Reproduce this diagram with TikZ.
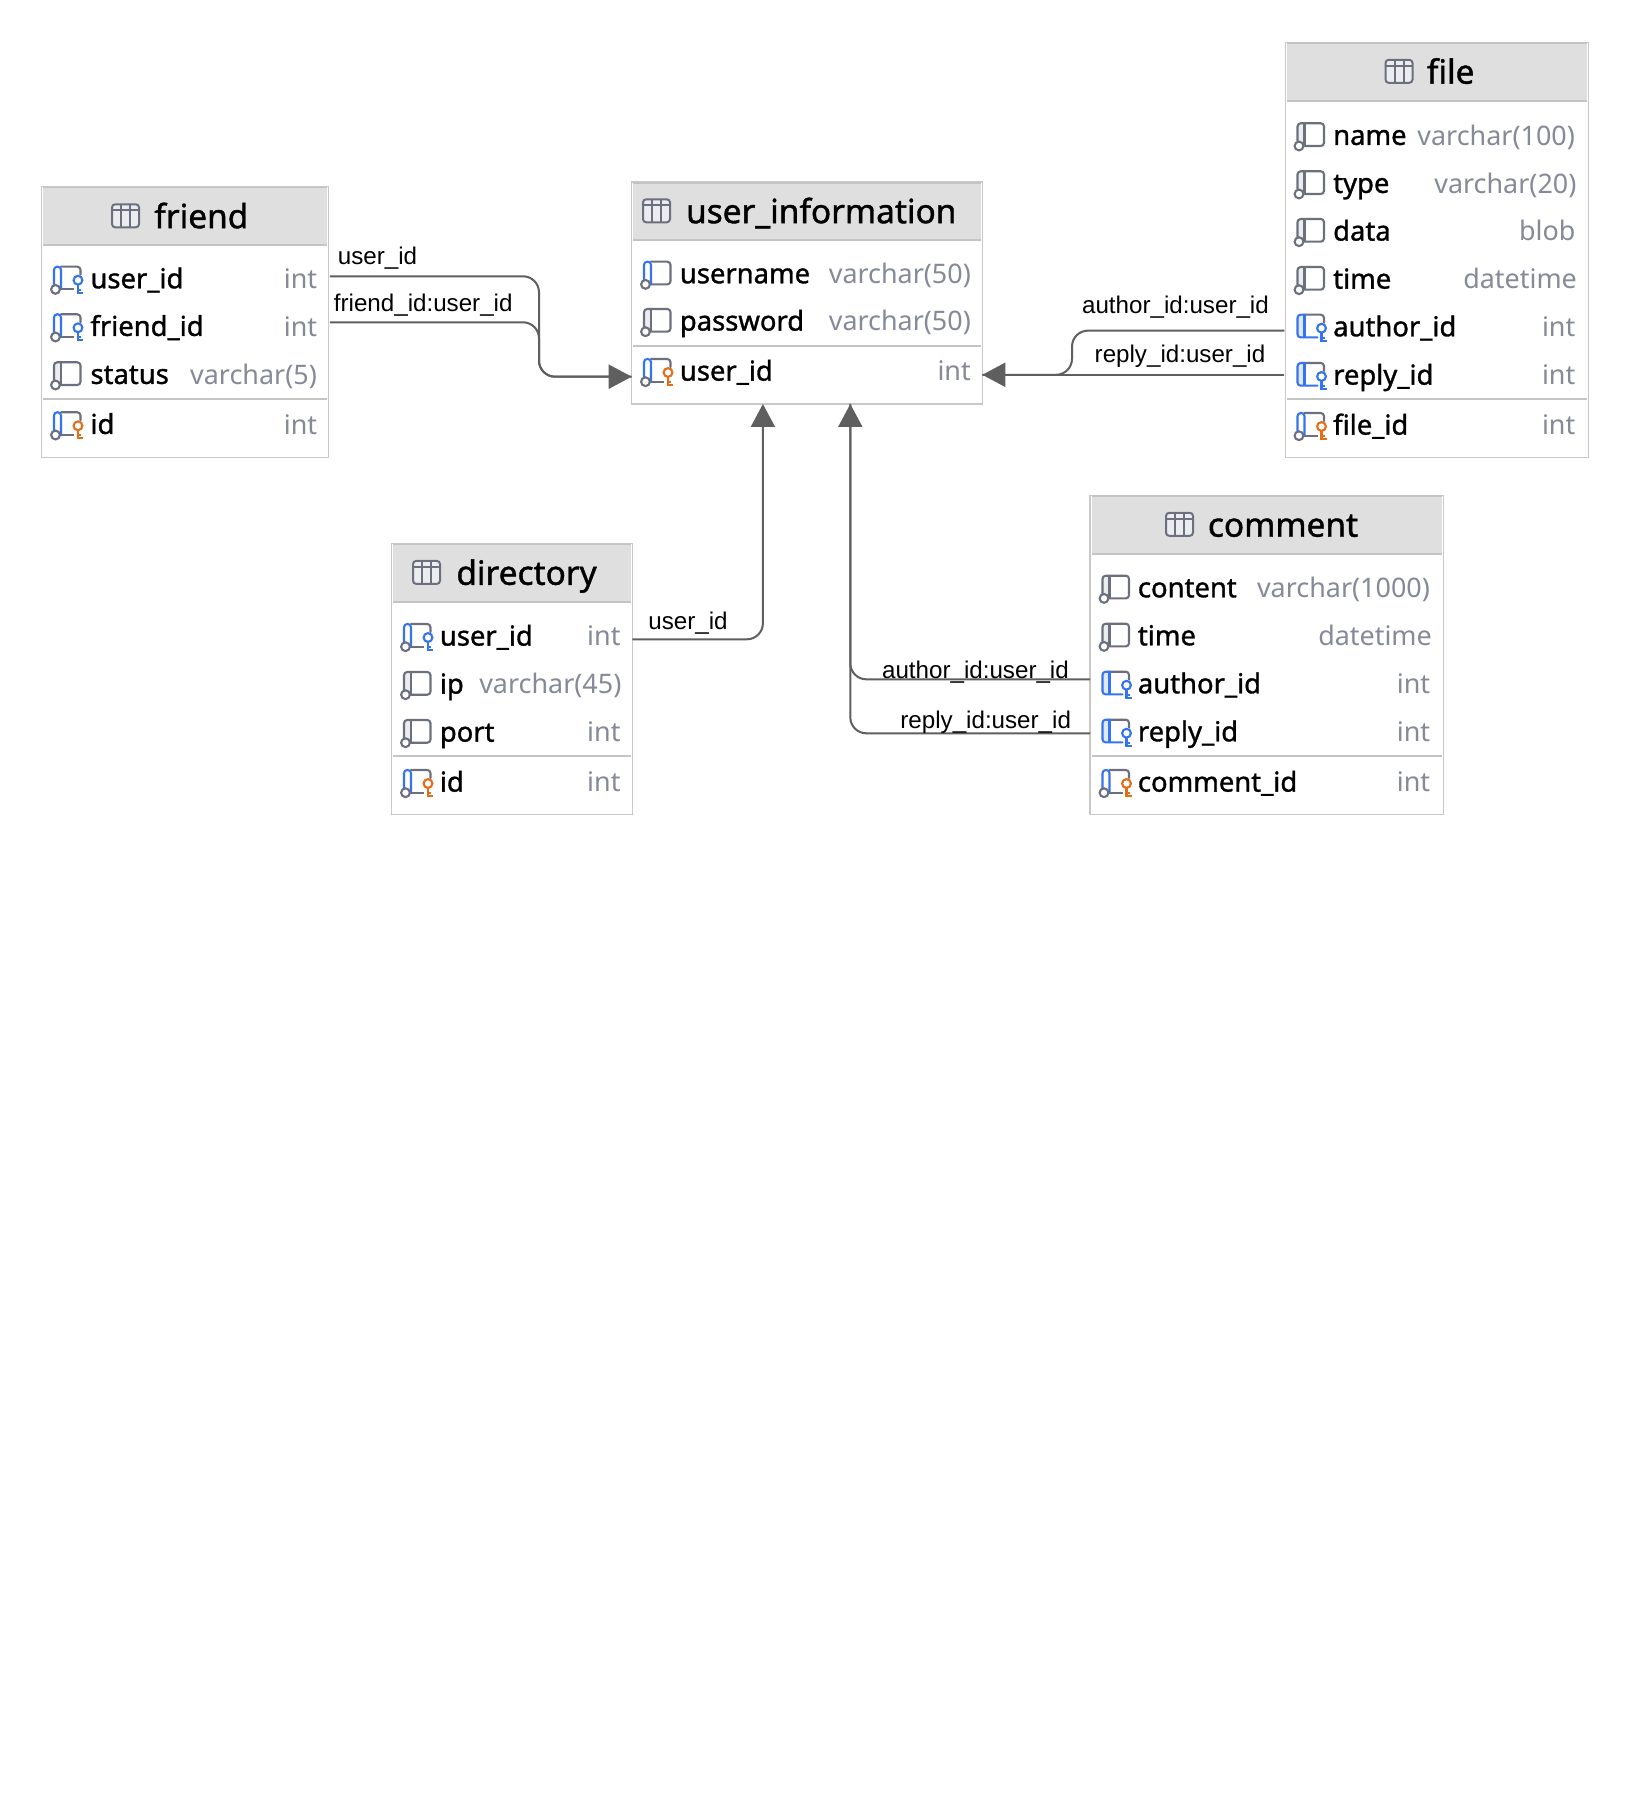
\documentclass[tikz,border=0pt]{standalone}
\usepackage{fontspec}
\usetikzlibrary{arrows.meta,fit}
\setmainfont{Liberation Sans}
\newfontfamily\colfont{Noto Sans}[FakeBold=1.2]
\newfontfamily\typefont{Noto Sans}
\definecolor{icongray}{HTML}{6C707E}
\definecolor{iconfill}{HTML}{EBECF0}
\definecolor{fkblue}{HTML}{3574F0}
\definecolor{bluefill}{HTML}{E0E9FB}
\definecolor{pkorange}{HTML}{E66D17}
\definecolor{typegray}{HTML}{868A98}
\definecolor{borderc}{HTML}{C9C9C9}
\definecolor{sepc}{HTML}{C4C4C4}
\definecolor{headc}{HTML}{DFDFDF}
\definecolor{connc}{HTML}{5F5F5F}
\tikzset{
  tablebox/.style={draw=borderc,line width=0.7pt,fill=white,inner sep=0pt,outer sep=0pt},
  sepline/.style={draw=sepc,line width=0.9pt},
  titletext/.style={anchor=base west,inner sep=0pt,font=\colfont\fontsize{16.7}{18}\selectfont,text=black},
  nametext/.style={anchor=base west,inner sep=0pt,font=\colfont\fontsize{13.7}{16}\selectfont,text=black},
  typetext/.style={anchor=base east,inner sep=0pt,font=\typefont\fontsize{13.45}{16}\selectfont,text=typegray},
  edgetext/.style={anchor=base west,inner sep=0pt,font=\fontsize{12.08}{14}\selectfont,text=black},
  conn/.style={draw=connc,line width=1pt,rounded corners=8pt},
  connarrow/.style={conn,-{Triangle[length=11.5pt,width=12pt,fill=connc]}},
  iconline/.style={line width=1.05pt,line cap=round,rounded corners=1.6pt},
}
% table frame: id, left, top, right, header bottom, divider, bottom, title, title position
\newcommand\dbtable[9]{%
  \coordinate (#1-nw) at (#2,#3);
  \coordinate (#1-se) at (#4,#7);
  \node[tablebox,fit=(#1-nw)(#1-se)] (#1) {};
  \fill[headc] (#2+1.5,#3+1.5) rectangle (#4-1.5,#5);
  \draw[sepline] (#2+1.5,#3+0.8) -- (#4-1.5,#3+0.8);
  \draw[sepline] (#2+1.5,#5) -- (#4-1.5,#5);
  \draw[sepline] (#2+1.5,#6) -- (#4-1.5,#6);
  \dbtabletitle{#1}{#8}{#9}%
}
\newcommand\dbtabletitle[3]{\node[titletext] (#1-title) at (#3) {#2};}
\newcommand\tableicon[2]{%
  \begin{scope}[shift={(#1,#2)}]
    \draw[icongray,fill=iconfill,line width=1pt,rounded corners=1.6pt] (0,-23.4) rectangle (27,-0.4);
    \draw[icongray,line width=1pt] (0,-17.5) -- (27,-17.5) (9,-23.4) -- (9,-0.4) (18,-23.4) -- (18,-0.4);
  \end{scope}}
\newcommand\keyglyph[1]{%
  \draw[#1,line width=1.05pt] (25,-3.2) -- (25,5) -- (30,5) (25,2) -- (28,2);
  \draw[#1,line width=1.05pt] (25,-7.5) circle[radius=2.2pt];}
\newcommand\ringglyph{\draw[icongray,fill=white,line width=1.05pt] (2.5,1.7) circle[radius=2.2pt];}
% plain column
\newcommand\iconA[2]{%
  \begin{scope}[shift={(#1,#2)}]
    \fill[iconfill] (1,-21) rectangle (8,1.7);
    \draw[icongray,iconline] (1,-3) -- (1,-21) -- (27.5,-21) -- (27.5,1.7) -- (6,1.7);
    \draw[icongray,line width=1.05pt] (8,-21) -- (8,1.7);
    \ringglyph
  \end{scope}}
% blue top-left, no key
\newcommand\iconU[2]{%
  \begin{scope}[shift={(#1,#2)}]
    \draw[icongray,iconline] (8,-21) -- (27.5,-21) -- (27.5,1.7) -- (6,1.7);
    \draw[fkblue,iconline] (1,-3) -- (1,-21) -- (8,-21) -- (8,1.7);
    \ringglyph
  \end{scope}}
% blue top-left, ring and key
\newcommand\iconF[3]{%
  \begin{scope}[shift={(#1,#2)}]
    \draw[icongray,iconline] (8,-21) -- (27.5,-21) -- (27.5,-13);
    \draw[icongray,line width=1.05pt] (6,1.7) -- (21,1.7);
    \draw[fkblue,iconline] (1,-3) -- (1,-21) -- (8,-21) -- (8,1.7);
    \ringglyph
    \keyglyph{#3}
  \end{scope}}
% closed blue stripe, key
\newcommand\iconN[2]{%
  \begin{scope}[shift={(#1,#2)}]
    \fill[bluefill] (1,-21) rectangle (8,1.7);
    \draw[icongray,iconline] (8,-21) -- (27.5,-21) -- (27.5,-13);
    \draw[fkblue,iconline] (8,-21) -- (1,-21) -- (1,1.7) -- (21,1.7);
    \draw[fkblue,line width=1.05pt] (8,-21) -- (8,1.7);
    \keyglyph{fkblue}
  \end{scope}}
% row: node id, text x, baseline, type right x, name, type
\newcommand\dbrow[6]{%
  \node[nametext] (#1-n) at (#2-0.5,#3+0.6) {#5};
  \node[typetext] (#1-t) at (#4+2.2,#3+0.8) {#6};}
\begin{document}
\begin{tikzpicture}[x=0.5pt,y=-0.5pt]
\useasboundingbox (0,0) rectangle (1628,1802);
\fill[white] (0,0) rectangle (1628,1802);

% ---------- friend
\coordinate (tfriend) at (154,228.2);
\dbtable{friend}{41.7}{186.7}{328.2}{245}{398.7}{457.3}{friend}{tfriend}
\tableicon{112}{227.7}
\dbrow{friendA}{90.6}{287.7}{315.4}{user\_id}{int}
\dbrow{friendB}{90.6}{335.3}{315.4}{friend\_id}{int}
\dbrow{friendC}{90.6}{383.3}{315}{status}{varchar(5)}
\dbrow{friendD}{90.6}{433.3}{315.4}{id}{int}
\iconF{53}{287.7}{fkblue}
\iconF{53}{335.3}{fkblue}
\iconA{53}{383.3}
\iconF{53}{433.3}{pkorange}

% ---------- user_information
\coordinate (tuinfo) at (685.7,223.2);
\dbtable{uinfo}{631.7}{182}{982.3}{240}{345.7}{404}{user\_information}{tuinfo}
\tableicon{643}{222.7}
\dbrow{uinfoA}{680}{282.7}{969}{username}{varchar(50)}
\dbrow{uinfoB}{680}{330}{969}{password}{varchar(50)}
\dbrow{uinfoC}{680}{380}{969}{user\_id}{int}
\iconU{643}{282.7}
\iconA{643}{330}
\iconF{643}{380}{pkorange}

% ---------- file
\coordinate (tfile) at (1426.5,83.7);
\dbtable{file}{1285.4}{42.3}{1588.4}{101}{399}{457.3}{file}{tfile}
\tableicon{1385.5}{83.2}
\dbrow{fileA}{1333.3}{144.3}{1573}{name}{varchar(100)}
\dbrow{fileB}{1333.3}{192.3}{1574.5}{type}{varchar(20)}
\dbrow{fileC}{1333.3}{240}{1573.5}{data}{blob}
\dbrow{fileD}{1333.3}{288}{1575}{time}{datetime}
\dbrow{fileE}{1333.3}{335.7}{1573.5}{author\_id}{int}
\dbrow{fileF}{1333.3}{384}{1573.5}{reply\_id}{int}
\dbrow{fileG}{1333.3}{434}{1573.5}{file\_id}{int}
\iconA{1296.5}{144.3}
\iconA{1296.5}{192.3}
\iconA{1296.5}{240}
\iconA{1296.5}{288}
\iconN{1296.5}{335.7}
\iconN{1296.5}{384}
\iconF{1296.5}{434}{pkorange}

% ---------- directory
\coordinate (tdir) at (456,584.8);
\dbtable{dir}{391.3}{543.7}{632.3}{602.3}{756}{814.3}{directory}{tdir}
\tableicon{413}{584.3}
\dbrow{dirA}{440}{645}{618.7}{user\_id}{int}
\dbrow{dirB}{440}{693}{619.5}{ip}{varchar(45)}
\dbrow{dirC}{440}{741}{618.7}{port}{int}
\dbrow{dirD}{440}{791}{618.7}{id}{int}
\iconF{403}{645}{fkblue}
\iconA{403}{693}
\iconA{403}{741}
\iconF{403}{791}{pkorange}

% ---------- comment
\coordinate (tcomment) at (1207.5,536.7);
\dbtable{comment}{1090}{495.3}{1443.4}{554.3}{756}{814.3}{comment}{tcomment}
\tableicon{1166}{536.2}
\dbrow{commentA}{1138}{596.7}{1428}{content}{varchar(1000)}
\dbrow{commentB}{1138}{644.7}{1430}{time}{datetime}
\dbrow{commentC}{1138}{692.7}{1428.3}{author\_id}{int}
\dbrow{commentD}{1138}{740.7}{1428.3}{reply\_id}{int}
\dbrow{commentE}{1138}{791}{1428.3}{comment\_id}{int}
\iconA{1101.5}{596.7}
\iconA{1101.5}{644.7}
\iconN{1101.5}{692.7}
\iconN{1101.5}{740.7}
\iconF{1101.5}{791}{pkorange}

% ---------- ports and routes
\coordinate (pfA) at (0,276.3);
\coordinate (pfB) at (0,322.3);
\coordinate (puW) at (0,376.7);
\coordinate (busF) at (539,0);
\coordinate (puE) at (0,374.8);
\coordinate (pfileE) at (0,330.6);
\coordinate (busR) at (1072,0);
\coordinate (pdir) at (0,639.3);
\coordinate (busD) at (762.9,0);
\coordinate (busC) at (850.3,0);
\coordinate (pcA) at (0,679.3);
\coordinate (pcB) at (0,733.3);

% ---------- connectors
\draw[conn] ([xshift=0.8pt]friend.east |- pfB) -- (busF |- pfB) -- (busF |- puW) -- (uinfo.west |- puW);
\draw[connarrow] ([xshift=0.8pt]friend.east |- pfA) -- (busF |- pfA) -- (busF |- puW) -- (uinfo.west |- puW);
\draw[conn] ([xshift=-0.5pt]file.west |- pfileE) -- (busR |- pfileE) -- (busR |- puE) -- (uinfo.east |- puE);
\draw[connarrow] ([xshift=-0.5pt]file.west |- puE) -- (uinfo.east |- puE);
\draw[connarrow] (dir.east |- pdir) -- (busD |- pdir) -- (busD |- uinfo.south);
\draw[conn] (comment.west |- pcA) -- (busC |- pcA) -- (busC |- uinfo.south);
\draw[connarrow] (comment.west |- pcB) -- (busC |- pcB) -- (busC |- uinfo.south);

% ---------- connector labels
\node[edgetext] (lf1) at (337.5,264.8) {user\_id};
\node[edgetext] (lf2) at (333.5,311.2) {friend\_id:user\_id};
\node[edgetext] (lr1) at (1081.7,313.2) {author\_id:user\_id};
\node[edgetext] (lr2) at (1094.3,362.2) {reply\_id:user\_id};
\node[edgetext] (ld1) at (648,629.2) {user\_id};
\node[edgetext] (lc1) at (881.7,678.8) {author\_id:user\_id};
\node[edgetext] (lc2) at (900,728.8) {reply\_id:user\_id};
\end{tikzpicture}
\end{document}
